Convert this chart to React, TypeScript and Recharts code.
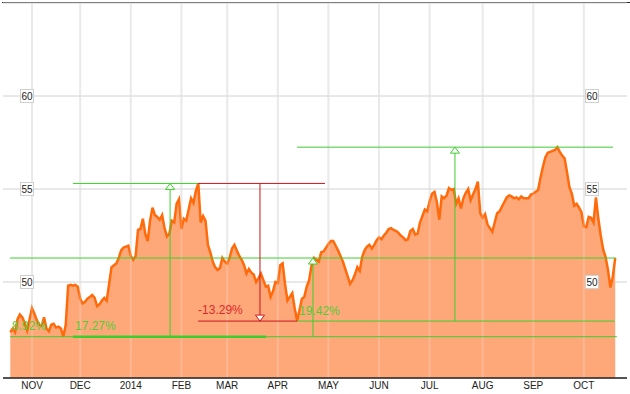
import {
  AreaChart,
  Area,
  XAxis,
  YAxis,
  CartesianGrid,
  ReferenceLine,
  ReferenceDot,
} from "recharts";

// trading-day index, 0 = first session of November 2013
const firstDay = -9;
const closes = [
  47.3, 47.5, 47.3, 48.0, 48.25, 48.1, 47.8, 47.4, 48.0,
  48.6, 48.3, 47.95, 47.7, 47.65, 48.1, 47.5, 47.35, 47.7, 47.75,
  47.55, 47.6, 47.5, 47.06, 47.7, 49.8, 49.85, 49.8, 49.85, 49.75,
  49.1, 48.85, 48.94, 49.1, 49.2, 49.3, 49.15, 48.7, 48.8, 49.0,
  49.15, 49.0, 49.9, 50.8, 50.9, 51.0, 51.3, 51.7, 51.85, 51.9,
  51.95, 51.4, 51.2, 51.4, 52.8, 52.85, 53.4, 52.6, 52.2, 53.3,
  54.0, 53.6, 53.5, 53.35, 53.6, 52.9, 52.45, 52.6, 53.3, 53.2,
  54.2, 54.45, 52.85, 53.4, 53.3, 53.9, 54.5, 54.25, 54.9, 55.3,
  53.2, 53.55, 53.3, 52.0, 51.6, 51.1, 50.8, 50.65, 50.75, 51.3,
  51.1, 51.0, 51.3, 51.8, 52.0, 51.7, 51.4, 51.2, 50.9, 50.45,
  50.7, 50.5, 50.4, 50.0, 50.2, 50.45, 50.1, 49.75, 49.8, 49.2,
  49.5, 50.0, 49.95, 50.9, 51.0, 49.9, 49.0, 49.2, 49.4, 48.6,
  47.9, 48.5, 49.1, 49.2, 49.75, 50.1, 50.9, 51.3, 51.2, 51.1,
  51.6, 51.65, 51.85, 52.05, 52.2, 52.2, 51.95, 51.7, 51.4, 51.1,
  50.7, 50.3, 49.9, 50.1, 50.4, 50.8, 50.6, 51.35, 51.7, 51.9,
  52.0, 51.8, 52.0, 52.25, 52.4, 52.3, 52.5, 52.65, 52.85, 52.9,
  52.8, 52.75, 52.65, 52.5, 52.4, 52.25, 52.3, 52.75, 52.85, 52.55,
  52.6, 53.2, 53.55, 53.9, 53.8, 54.35, 54.75, 54.85, 54.3, 53.35,
  54.6, 54.5, 54.65, 55.05, 54.95, 55.0, 54.2, 54.5, 53.95, 54.5,
  54.8, 55.0, 54.4, 54.7, 55.0, 55.4, 53.7, 53.45, 53.65, 53.1,
  52.9, 52.7, 53.2, 53.7, 53.8, 54.05, 54.3, 54.55, 54.65, 54.6,
  54.5, 54.55, 54.45, 54.6, 54.5, 54.5, 54.5, 54.7, 54.75, 54.85,
  54.95, 55.6, 56.2, 56.7, 56.95, 57.0, 57.05, 57.1, 57.25, 57.0,
  56.8, 56.65, 55.9, 55.1, 54.75, 54.1, 54.2, 54.0, 53.75, 53.0,
  52.95, 53.5, 53.45, 53.2, 54.55, 53.4, 52.5, 51.75, 51.35, 50.65,
  49.7, 50.3, 51.29,
];

const monthTicks = [0, 20, 41, 62, 81, 102, 123, 144, 165, 187, 208, 229];
const monthLabels = ["NOV", "DEC", "2014", "FEB", "MAR", "APR", "MAY", "JUN", "JUL", "AUG", "SEP", "OCT"];
const priceTicks = [50, 55, 60];
const dayDomain = [-12.03, 246.89];

// measurement overlays: [day1, value1, day2, value2]
const greenSegments = [
  [-9.1, 47.06, 242.7, 47.06],
  [-9.1, 51.29, 242.3, 51.29],
  [116.6, 47.06, 116.6, 51.29],
  [17, 55.3, 68.9, 55.3],
  [57.3, 47.06, 57.3, 55.3],
  [110, 47.9, 241.9, 47.9],
  [110, 57.25, 241.1, 57.25],
  [175.5, 47.9, 175.5, 57.25],
];
const thickSegments = [[17, 47.06, 97.1, 47.06]];
const redSegments = [
  [68.9, 55.3, 121.6, 55.3],
  [68.9, 47.9, 110, 47.9],
  [94.6, 55.3, 94.6, 47.9],
];
const upArrows = [
  [116.6, 51.29],
  [57.3, 55.3],
  [175.5, 57.25],
];
const downArrows = [[94.6, 47.9]];
const pctLabels = [
  { day: -9.1, value: 47.06, text: "8.92%", dx: 2, dy: -7 },
  { day: 17, value: 47.06, text: "17.27%", dx: 2, dy: -7 },
  { day: 68.9, value: 47.9, text: "-13.29%", dx: 0, dy: -7 },
  { day: 110, value: 47.9, text: "19.42%", dx: 2, dy: -6 },
];

const data = closes.map((close, i) => ({ day: firstDay + i, close }));

const GREEN = "#3dcf2c";
const RED = "#c8161c";
const FONT = "'Liberation Sans', Arial, sans-serif";

const PriceBox = ({ y, payload, cx }: any) => (
  <g>
    <rect x={cx - 6.5} y={y - 6.5} width={13} height={13} fill="#fff" stroke="#cfcfcf" />
    <text x={cx} y={y + 3.5} textAnchor="middle" fontSize={10} fill="#222" fontFamily={FONT}>
      {payload.value}
    </text>
  </g>
);

const seg = (s: number[]) => [
  { x: s[0], y: s[1] },
  { x: s[2], y: s[3] },
];

// month grid lines only, without the plot edges
const monthGrid = ({ offset }: any) => {
  const left = offset?.left ?? 3;
  const w = offset?.width ?? 624;
  return monthTicks.map((t) => left + ((t - dayDomain[0]) / (dayDomain[1] - dayDomain[0])) * w);
};

export default function App() {
  return (
    <div style={{ position: "absolute", left: 0, top: 0, width: 630, height: 394 }}>
      <div
        style={{
          position: "absolute",
          left: 2,
          top: 2,
          width: 628,
          height: 0,
          borderTop: "1.5px solid #2a2a2a",
        }}
      />
      <AreaChart
        width={630}
        height={394}
        data={data}
        margin={{ top: 3, right: 2, left: 2, bottom: 0 }}
        style={{ fontFamily: FONT }}
      >
        <CartesianGrid
          yAxisId="l"
          horizontal={false}
          stroke="#e6e6e6"
          strokeWidth={2}
          verticalCoordinatesGenerator={monthGrid}
        />
        <CartesianGrid yAxisId="l" vertical={false} stroke="#d2d2d2" />
        <Area
          yAxisId="l"
          type="linear"
          dataKey="close"
          stroke="#ff6a0a"
          strokeWidth={2.5}
          fill="#fea87a"
          fillOpacity={1}
          dot={false}
          activeDot={false}
          isAnimationActive={false}
        />
        {monthTicks.map((t) => (
          <ReferenceLine
            key={"m" + t}
            yAxisId="l"
            x={t}
            stroke="#fff"
            strokeOpacity={0.18}
            strokeWidth={2}
          />
        ))}
        {thickSegments.map((s, i) => (
          <ReferenceLine key={"t" + i} yAxisId="l" segment={seg(s)} stroke={GREEN} strokeWidth={2.5} />
        ))}
        {greenSegments.map((s, i) => (
          <ReferenceLine key={"g" + i} yAxisId="l" segment={seg(s)} stroke={GREEN} strokeWidth={1} />
        ))}
        {redSegments.map((s, i) => (
          <ReferenceLine key={"r" + i} yAxisId="l" segment={seg(s)} stroke={RED} strokeWidth={1} />
        ))}
        {upArrows.map((a, i) => (
          <ReferenceDot
            key={"u" + i}
            yAxisId="l"
            x={a[0]}
            y={a[1]}
            shape={(p: any) => (
              <polygon
                points={`${p.cx},${p.cy} ${p.cx - 4.5},${p.cy + 6} ${p.cx + 4.5},${p.cy + 6}`}
                fill="#fff"
                stroke={GREEN}
              />
            )}
          />
        ))}
        {downArrows.map((a, i) => (
          <ReferenceDot
            key={"d" + i}
            yAxisId="l"
            x={a[0]}
            y={a[1]}
            shape={(p: any) => (
              <polygon
                points={`${p.cx},${p.cy} ${p.cx - 4.5},${p.cy - 6} ${p.cx + 4.5},${p.cy - 6}`}
                fill="#fff"
                stroke={RED}
              />
            )}
          />
        ))}
        {pctLabels.map((l, i) => (
          <ReferenceDot
            key={"p" + i}
            yAxisId="l"
            x={l.day}
            y={l.value}
            shape={(p: any) => (
              <text
                x={p.cx + l.dx}
                y={p.cy + l.dy}
                fontSize={12}
                fontFamily={FONT}
                fill={l.text.startsWith("-") ? "#dd2a2a" : "#52cc33"}
              >
                {l.text}
              </text>
            )}
          />
        ))}
        <XAxis
          dataKey="day"
          type="number"
          domain={dayDomain}
          allowDataOverflow
          ticks={monthTicks}
          interval={0}
          tickFormatter={(v) => monthLabels[monthTicks.indexOf(v)]}
          height={16}
          tickSize={0}
          tickMargin={4}
          tick={{ fontSize: 10, fill: "#222", fontFamily: FONT }}
          axisLine={{ stroke: "#222", strokeWidth: 1.5 }}
        />
        <YAxis
          yAxisId="l"
          width={1}
          domain={[44.84, 65]}
          allowDataOverflow
          ticks={priceTicks}
          axisLine={false}
          tickLine={false}
          tick={(p: any) => <PriceBox {...p} cx={27} />}
        />
        <YAxis
          yAxisId="r"
          orientation="right"
          width={1}
          domain={[44.84, 65]}
          allowDataOverflow
          ticks={priceTicks}
          axisLine={false}
          tickLine={false}
          tick={(p: any) => <PriceBox {...p} cx={592} />}
        />
      </AreaChart>
    </div>
  );
}
